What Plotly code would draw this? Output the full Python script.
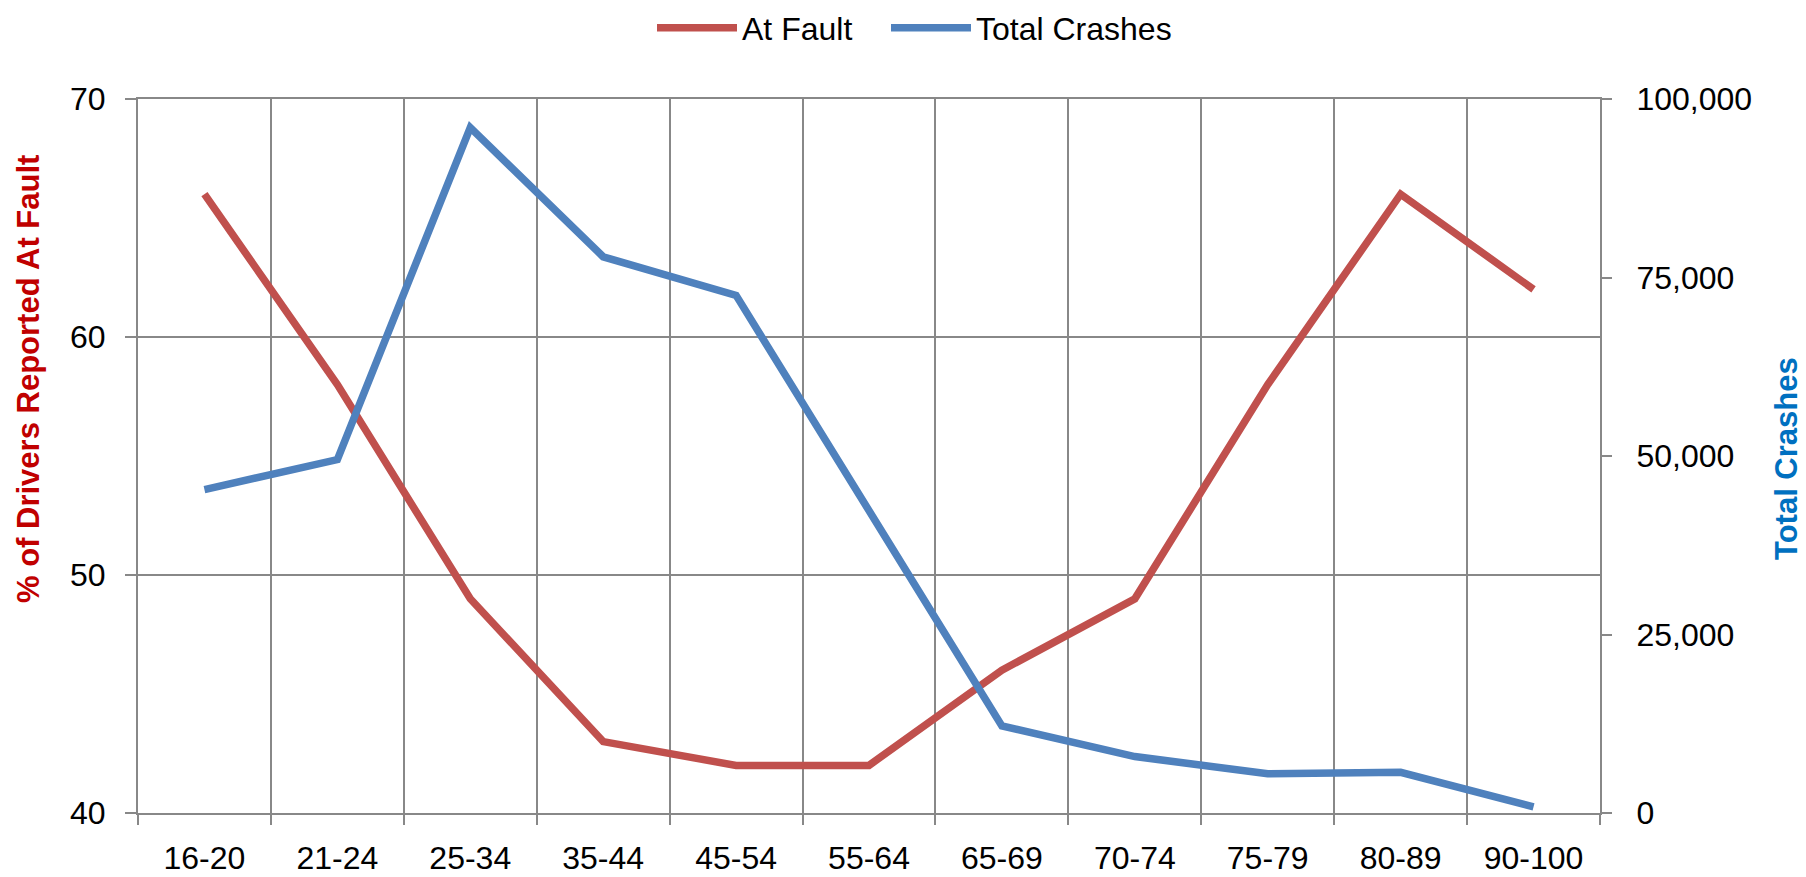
import plotly.graph_objects as go

# age groups and series values
age_groups = ["16-20", "21-24", "25-34", "35-44", "45-54", "55-64",
              "65-69", "70-74", "75-79", "80-89", "90-100"]
at_fault_pct = [66, 58, 49, 43, 42, 42, 46, 49, 58, 66, 62]
total_crashes = [45300, 49500, 96000, 77900, 72500, 42300,
                 12200, 7900, 5500, 5700, 850]

left_ticks = [40, 50, 60, 70]
right_ticks = [0, 25000, 50000, 75000, 100000]

RED = "#C0504D"
BLUE = "#4F81BD"
GRID = "#888888"
FONT = "Liberation Sans, Arial, sans-serif"

W, H = 1806, 877
ML, MR, MT, MB = 138, 206, 99, 64
PW, PH = W - ML - MR, H - MT - MB


def px_x(x):
    return (x - ML) / PW


def px_y(y):
    return (H - MB - y) / PH


fig = go.Figure()
fig.add_trace(go.Scatter(x=age_groups, y=at_fault_pct, name="At Fault", mode="lines",
                         line=dict(color=RED, width=7.5), yaxis="y", legend="legend"))
fig.add_trace(go.Scatter(x=age_groups, y=total_crashes, name="Total Crashes", mode="lines",
                         line=dict(color=BLUE, width=7.5), yaxis="y2", legend="legend2"))

legend_style = dict(orientation="h", yanchor="middle", xanchor="left",
                    font=dict(size=32), itemwidth=80, bgcolor="rgba(0,0,0,0)")

fig.update_layout(
    width=W, height=H,
    margin=dict(l=ML, r=MR, t=MT, b=MB, autoexpand=False),
    paper_bgcolor="white", plot_bgcolor="white",
    font=dict(family=FONT, size=32, color="black"),
    showlegend=True,
    legend=dict(x=px_x(652), y=px_y(28), **legend_style),
    legend2=dict(x=px_x(886), y=px_y(28), **legend_style),
    xaxis=dict(
        type="category", range=[-0.5, len(age_groups) - 0.5],
        tickson="boundaries", showgrid=True, gridcolor=GRID, gridwidth=2,
        ticks="outside", ticklen=10, tickwidth=2, tickcolor=GRID,
        showline=True, linecolor=GRID, linewidth=2, mirror=True,
        ticklabelstandoff=16,
    ),
    yaxis=dict(
        range=[40, 70], tickvals=left_ticks, showgrid=True, gridcolor=GRID, gridwidth=2,
        ticks="outside", ticklen=11, tickwidth=2, tickcolor=GRID,
        showline=True, linecolor=GRID, linewidth=2, zeroline=False,
        ticklabelstandoff=13,
    ),
    yaxis2=dict(
        range=[0, 100000], tickvals=right_ticks, tickformat=",", overlaying="y", side="right",
        showgrid=False, zeroline=False,
        ticks="outside", ticklen=10, tickwidth=2, tickcolor=GRID,
        showline=True, linecolor=GRID, linewidth=2,
        ticklabelstandoff=18,
    ),
    annotations=[
        dict(text="<b>% of Drivers Reported At Fault</b>", textangle=-90,
             xref="paper", yref="paper", x=px_x(28), y=px_y(379),
             xanchor="center", yanchor="middle", showarrow=False,
             font=dict(size=31, color="#C00000")),
        dict(text="<b>Total Crashes</b>", textangle=-90,
             xref="paper", yref="paper", x=px_x(1786), y=px_y(459),
             xanchor="center", yanchor="middle", showarrow=False,
             font=dict(size=31, color="#0070C0")),
    ],
)

# the page's default body margin would push the fixed-size figure off the window
fig.write_html("out.html", config={"displayModeBar": False},
               post_script="document.body.style.margin = '0';")
